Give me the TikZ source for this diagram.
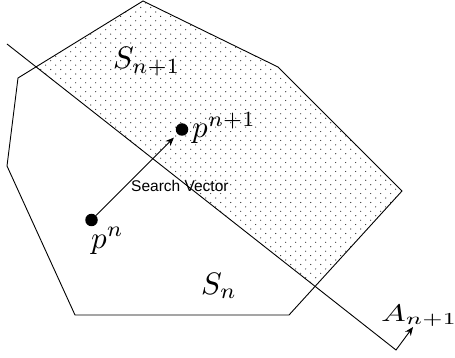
\documentclass[tikz,border=0pt]{standalone}
\usepackage{fontspec}
\newfontfamily\svfont{Liberation Sans}
\usetikzlibrary{arrows.meta}
\begin{document}
\begin{tikzpicture}[x=1pt,y=-1pt,
  edge/.style={draw=black,line width=0.9pt,line join=miter},
  vec/.style={edge,-{Stealth[length=8.5pt,width=7pt]}},
  pt/.style={circle,fill=black,inner sep=0pt,minimum size=12.5pt},
  mlabel/.style={inner sep=0pt},
  svlabel/.style={inner sep=0pt,font=\svfont\fontsize{15.5}{18}\selectfont},
  dot/.style={fill=black!85}]
\useasboundingbox (0,0) rectangle (455,358);
% polygon S_n vertices
\coordinate (P1) at (143,1);
\coordinate (P2) at (278,67);
\coordinate (P3) at (402,191);
\coordinate (P4) at (289,315);
\coordinate (P5) at (75,315);
\coordinate (P6) at (7,166);
\coordinate (P7) at (18,78);
% line A_{n+1}
\coordinate (A0) at (7,44);
\coordinate (A1) at (396,350);
\coordinate (A2) at (413,327);
% dotted region S_{n+1}
\begin{scope}
  \clip (P1)--(P2)--(P3)--(P4)--(P5)--(P6)--(P7)--cycle;
  \clip (-93,-34.7)--(496,428.7)--(496,-40)--cycle;
  \foreach \r in {0,...,70}{
    \foreach \c in {0,...,42}{
      \fill[dot] ({\c*10+5*(1-mod(\r,2))+0.7},{3.1+\r*4.43}) circle (0.6);
    }
  }
\end{scope}
\draw[edge] (P1)--(P2)--(P3)--(P4)--(P5)--(P6)--(P7)--cycle;
\draw[vec] (A0)--(A1)--(A2);
% points and search vector
\node[pt] (pn) at (91.5,220) {};
\node[pt] (pn1) at (182,129.5) {};
\draw[vec,shorten >=5pt] (pn)--(pn1);
% labels
\node[mlabel,anchor=base west] (lSn1) at (113,69) {\scalebox{3.1}{$S_{n+1}$}};
\node[mlabel,anchor=base west] (lpn1) at (192,138) {\scalebox{3.1}{$p^{n+1}$}};
\node[mlabel,anchor=base west] (lpn) at (91,248) {\scalebox{3.1}{$p^{n}$}};
\node[mlabel,anchor=base west] (lSn) at (201,294) {\scalebox{3.1}{$S_{n}$}};
\node[mlabel,anchor=base west] (lA) at (381,321) {\scalebox{3.3}[2.4]{$A_{n+1}$}};
\node[svlabel,anchor=base west] (sv) at (131,192) {Search Vector};
\end{tikzpicture}
\end{document}
